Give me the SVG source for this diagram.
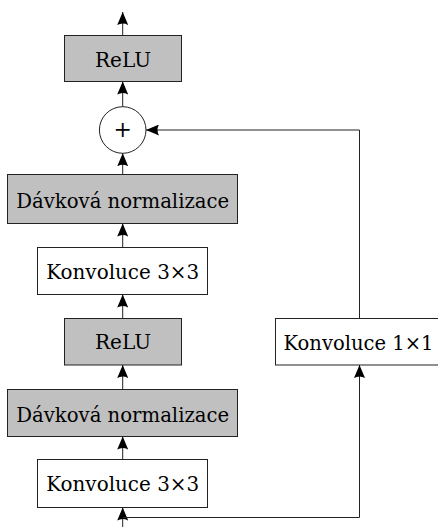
<svg xmlns="http://www.w3.org/2000/svg" width="438" height="527" viewBox="0 0 438 527">
  <defs>
    <marker id="arrow" viewBox="0 0 13 11" refX="13" refY="5.5" markerWidth="13" markerHeight="11" markerUnits="userSpaceOnUse" orient="auto">
      <path d="M0,0 Q3,5.5 0,11 L13,5.5 Z" fill="#000"/>
    </marker>
  </defs>
  <style>
    rect { stroke: #222; stroke-width: 1; }
    .op { fill: #c0c0c0; }
    .conv { fill: #fff; }
    .lbl { font-family: 'DejaVu Serif', serif; font-size: 20px; fill: #000; text-anchor: middle; }
    .edge { fill: none; stroke: #222; stroke-width: 1; marker-end: url(#arrow); }
  </style>
  <rect width="438" height="527" fill="#fff" style="stroke:none"/>

  <!-- main path nodes -->
  <g id="relu-out">
    <rect class="op" x="64.5" y="35.5" width="117" height="46"/>
    <text class="lbl" x="123" y="66.5" textLength="56" lengthAdjust="spacingAndGlyphs">ReLU</text>
  </g>
  <g id="sum">
    <circle cx="122.7" cy="130" r="23.3" fill="#fff" stroke="#222" stroke-width="1"/>
    <text class="lbl" x="122.7" y="137" style="font-size:22px">+</text>
  </g>
  <g id="bn-2">
    <rect class="op" x="7.5" y="174.5" width="230" height="49"/>
    <text class="lbl" x="122.7" y="207.5" textLength="213" lengthAdjust="spacingAndGlyphs">Dávková normalizace</text>
  </g>
  <g id="conv3-2">
    <rect class="conv" x="37.5" y="247.5" width="170" height="47"/>
    <text class="lbl" x="122.7" y="279" textLength="153" lengthAdjust="spacingAndGlyphs">Konvoluce 3×3</text>
  </g>
  <g id="relu-1">
    <rect class="op" x="64.5" y="318.5" width="117" height="46.5"/>
    <text class="lbl" x="123" y="349" textLength="56" lengthAdjust="spacingAndGlyphs">ReLU</text>
  </g>
  <g id="bn-1">
    <rect class="op" x="7.5" y="389.5" width="230" height="47"/>
    <text class="lbl" x="122.7" y="421.5" textLength="213" lengthAdjust="spacingAndGlyphs">Dávková normalizace</text>
  </g>
  <g id="conv3-1">
    <rect class="conv" x="37.5" y="459.5" width="170" height="48"/>
    <text class="lbl" x="122.7" y="491" textLength="153" lengthAdjust="spacingAndGlyphs">Konvoluce 3×3</text>
  </g>

  <!-- shortcut node -->
  <g id="conv1">
    <rect class="conv" x="275.5" y="318.5" width="168" height="46.5"/>
    <text class="lbl" x="358.5" y="349.5" textLength="150" lengthAdjust="spacingAndGlyphs">Konvoluce 1×1</text>
  </g>

  <!-- connectors -->
  <g id="connectors">
    <path class="edge" d="M122.7,35.5 V12"/>
    <path class="edge" d="M122.7,106.7 V81.5"/>
    <path class="edge" d="M122.7,174.5 V153.3"/>
    <path class="edge" d="M122.7,247.5 V223.5"/>
    <path class="edge" d="M122.7,318.5 V294.5"/>
    <path class="edge" d="M122.7,389.5 V365"/>
    <path class="edge" d="M122.7,459.5 V436.5"/>
    <path class="edge" d="M122.7,527 V507.5"/>
    <path class="edge" d="M122.7,517.5 H359.5 V365"/>
    <path class="edge" d="M359.5,318.5 V130 H146"/>
  </g>
</svg>
